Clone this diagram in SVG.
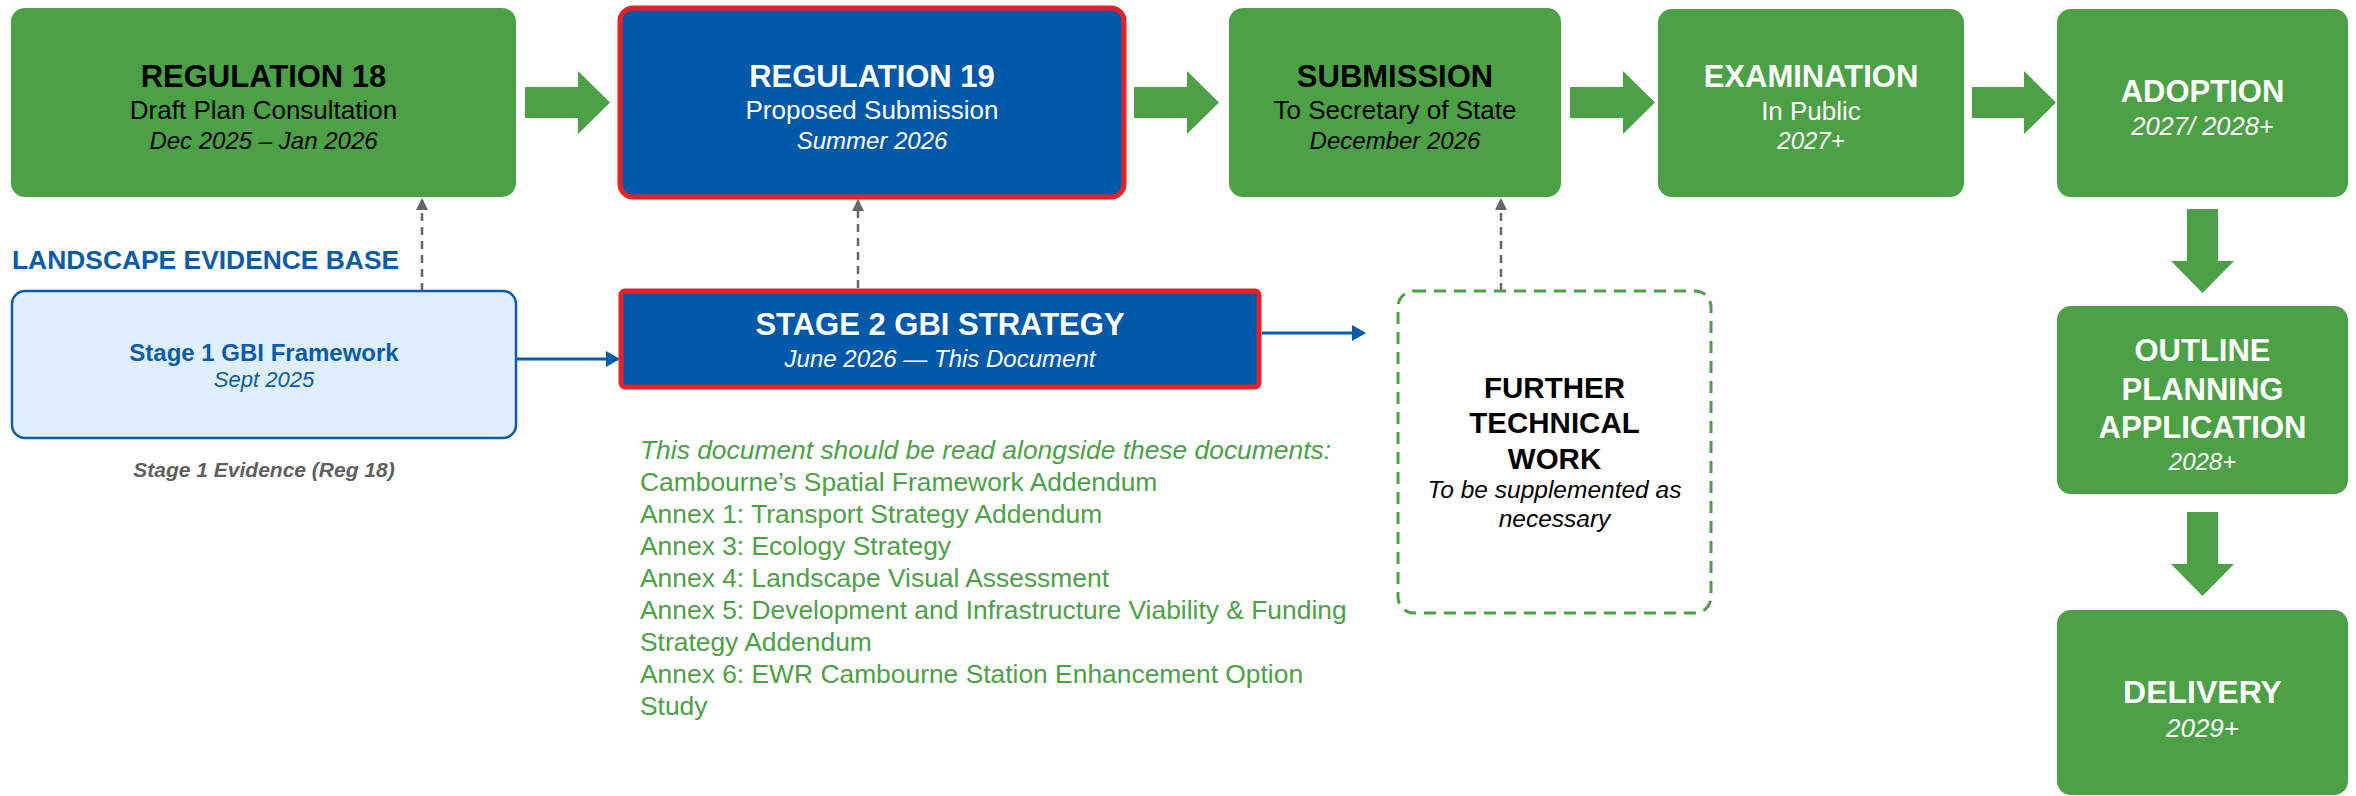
<svg xmlns="http://www.w3.org/2000/svg" width="2356" height="796" viewBox="0 0 2356 796">
<defs>
<style>
text{font-family:"Liberation Sans",Arial,sans-serif;text-anchor:middle}
.g{fill:#4CA147}
.b{font-weight:bold;font-size:31px}
.s{font-size:26px}
.i{font-style:italic;font-size:24px}
.w{fill:#fff}
.k{fill:#000}
.blk{fill:#4CA147}
.dash{stroke:#666;stroke-width:2.5;stroke-dasharray:8 6;fill:none}
.blue{stroke:#0A5BA8;stroke-width:3;fill:none}
.lst{text-anchor:start;font-size:26.4px;fill:#4CA147}
</style>
<marker id="ag" markerWidth="12" markerHeight="12" refX="10" refY="6" orient="auto" markerUnits="userSpaceOnUse">
<path d="M0,0 L12,6 L0,12 z" fill="#666"/>
</marker>
<marker id="ab" markerWidth="14" markerHeight="16" refX="12" refY="8" orient="auto" markerUnits="userSpaceOnUse">
<path d="M0,0 L14,8 L0,16 z" fill="#0A5BA8"/>
</marker>
</defs>

<g id="connectors">
<polygon class="blk" points="525,87 578,87 578,71 610,102.5 578,134 578,118 525,118"/>
<polygon class="blk" points="1134,87 1187,87 1187,71 1219,102.5 1187,134 1187,118 1134,118"/>
<polygon class="blk" points="1570,87 1623,87 1623,71 1655,102.5 1623,134 1623,118 1570,118"/>
<polygon class="blk" points="1972,87 2024,87 2024,71 2056,102.5 2024,134 2024,118 1972,118"/>
<polygon class="blk" points="2187,209 2218,209 2218,261 2234,261 2202.5,293 2171,261 2187,261"/>
<polygon class="blk" points="2187,512 2218,512 2218,564 2234,564 2202.5,596 2171,564 2187,564"/>
<line class="dash" x1="422" y1="291" x2="422" y2="200" marker-end="url(#ag)"/>
<line class="dash" x1="858" y1="288" x2="858" y2="201" marker-end="url(#ag)"/>
<line class="dash" x1="1501" y1="291" x2="1501" y2="200" marker-end="url(#ag)"/>
<line class="blue" x1="516" y1="359" x2="618" y2="359" marker-end="url(#ab)"/>
<line class="blue" x1="1262" y1="333" x2="1364" y2="333" marker-end="url(#ab)"/>
</g>

<g id="reg18">
<rect x="11" y="8" width="505" height="189" rx="14" class="g"/>
<text x="263.5" y="87" class="b k">REGULATION 18</text>
<text x="263.5" y="119" class="s k">Draft Plan Consultation</text>
<text x="263.5" y="149" class="i k">Dec 2025 – Jan 2026</text>
</g>

<g id="reg19">
<rect x="620" y="8" width="504" height="189" rx="13" fill="#0059A8" stroke="#E8202A" stroke-width="5"/>
<text x="872" y="87" class="b w">REGULATION 19</text>
<text x="872" y="119" class="s w">Proposed Submission</text>
<text x="872" y="149" class="i w">Summer 2026</text>
</g>

<g id="submission">
<rect x="1229" y="8" width="332" height="189" rx="14" class="g"/>
<text x="1395" y="87" class="b k">SUBMISSION</text>
<text x="1395" y="119" class="s k">To Secretary of State</text>
<text x="1395" y="149" class="i k">December 2026</text>
</g>

<g id="examination">
<rect x="1658" y="9" width="306" height="188" rx="14" class="g"/>
<text x="1811" y="87" class="b w">EXAMINATION</text>
<text x="1811" y="120" class="s w">In Public</text>
<text x="1811" y="149" class="i w">2027+</text>
</g>

<g id="adoption">
<rect x="2057" y="9" width="291" height="188" rx="14" class="g"/>
<text x="2202.5" y="102" class="b w">ADOPTION</text>
<text x="2202.5" y="135" class="i w" style="font-size:25.5px">2027/ 2028+</text>
</g>

<g id="outline">
<rect x="2057" y="306" width="291" height="188" rx="14" class="g"/>
<text x="2202.5" y="361" class="b w">OUTLINE</text>
<text x="2202.5" y="400" class="b w">PLANNING</text>
<text x="2202.5" y="438" class="b w">APPLICATION</text>
<text x="2202.5" y="470" class="i w">2028+</text>
</g>

<g id="delivery">
<rect x="2057" y="610" width="291" height="185" rx="14" class="g"/>
<text x="2202.5" y="703" class="b w" style="font-size:32px">DELIVERY</text>
<text x="2202.5" y="737" class="i w" style="font-size:26px">2029+</text>
</g>

<g id="landscape-label">
<text x="12" y="269" style="text-anchor:start;font-weight:bold;font-size:26.4px;fill:#0A5BA8">LANDSCAPE EVIDENCE BASE</text>
</g>

<g id="stage1">
<rect x="12" y="291" width="504" height="147" rx="13" fill="#DFEFFD" stroke="#0A5BA8" stroke-width="2.5"/>
<text x="264" y="361" style="font-weight:bold;font-size:24px;fill:#0A5BA8">Stage 1 GBI Framework</text>
<text x="264" y="387" style="font-style:italic;font-size:22px;fill:#0A5BA8">Sept 2025</text>
<text x="264" y="477" style="font-weight:bold;font-style:italic;font-size:21px;fill:#5F5F5F">Stage 1 Evidence (Reg 18)</text>
</g>

<g id="stage2">
<rect x="621" y="291" width="638" height="96" rx="4" fill="#0059A8" stroke="#E8202A" stroke-width="5"/>
<text x="940" y="335" class="b w">STAGE 2 GBI STRATEGY</text>
<text x="940" y="367" class="i w">June 2026 — This Document</text>
</g>

<g id="further">
<rect x="1398" y="291" width="313" height="322" rx="16" fill="none" stroke="#4CA147" stroke-width="3" stroke-dasharray="12 8"/>
<text x="1554.5" y="398" class="k" style="font-weight:bold;font-size:29.5px">FURTHER</text>
<text x="1554.5" y="433" class="k" style="font-weight:bold;font-size:29.5px">TECHNICAL</text>
<text x="1554.5" y="469" class="k" style="font-weight:bold;font-size:29.5px">WORK</text>
<text x="1554.5" y="498" class="k" style="font-style:italic;font-size:24.5px">To be supplemented as</text>
<text x="1554.5" y="527" class="k" style="font-style:italic;font-size:24.5px">necessary</text>
</g>

<g id="documents">
<text x="640" y="459" class="lst" style="font-style:italic">This document should be read alongside these documents:</text>
<text x="640" y="491" class="lst">Cambourne’s Spatial Framework Addendum</text>
<text x="640" y="523" class="lst">Annex 1: Transport Strategy Addendum</text>
<text x="640" y="555" class="lst">Annex 3: Ecology Strategy</text>
<text x="640" y="587" class="lst">Annex 4: Landscape Visual Assessment</text>
<text x="640" y="619" class="lst">Annex 5: Development and Infrastructure Viability &amp; Funding</text>
<text x="640" y="651" class="lst">Strategy Addendum</text>
<text x="640" y="683" class="lst">Annex 6: EWR Cambourne Station Enhancement Option</text>
<text x="640" y="715" class="lst">Study</text>
</g>
</svg>
